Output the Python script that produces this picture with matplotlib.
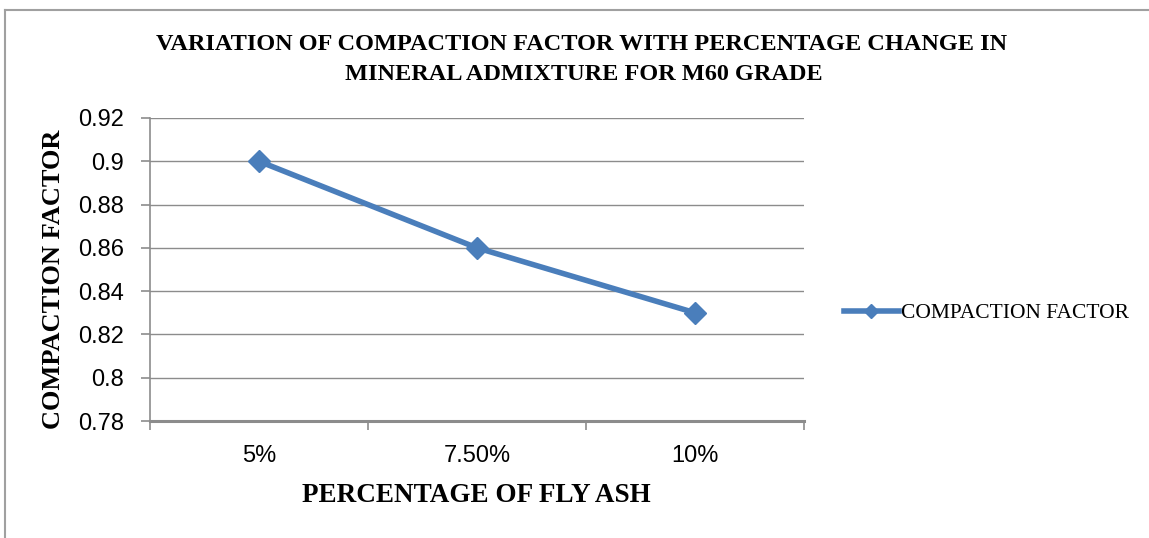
import matplotlib
matplotlib.use("Agg")
import matplotlib.pyplot as plt
from matplotlib.lines import Line2D

categories = ["5%", "7.50%", "10%"]
values = [0.90, 0.86, 0.83]
yticks = [0.78, 0.80, 0.82, 0.84, 0.86, 0.88, 0.90, 0.92]
ytick_labels = ["0.78", "0.8", "0.82", "0.84", "0.86", "0.88", "0.9", "0.92"]

sans = "Liberation Sans"
serif = "Liberation Serif"

W, H = 1149, 538
fig = plt.figure(figsize=(W / 100, H / 100), dpi=100)
ax = fig.add_axes([150 / W, 1 - 421 / H, (804 - 150) / W, (421 - 118) / H])

blue = "#4A7EBB"
grid_c = "#8C8C8C"
x = list(range(len(categories)))
ax.plot(x, values, color=blue, lw=4.0, marker="D", ms=11, mfc=blue, mec=blue, zorder=3)

ax.set_xlim(-0.5, len(categories) - 0.5)
ax.set_ylim(0.78, 0.92)
ax.set_yticks(yticks)
ax.set_yticklabels(ytick_labels, fontfamily=sans, fontsize=17)
ax.set_xticks(x)
ax.set_xticklabels(categories, fontfamily=sans, fontsize=17)
ax.set_xticks([i - 0.5 for i in range(len(categories) + 1)], minor=True)
ax.tick_params(axis="x", which="major", length=0, pad=17)
ax.tick_params(axis="x", which="minor", length=6.5, width=1.2, color=grid_c, direction="out")
ax.tick_params(axis="y", length=6.5, width=1.2, color=grid_c, direction="out", pad=12)
ax.grid(axis="y", color=grid_c, lw=1.0)
ax.set_axisbelow(True)
for s in ["top", "right"]:
    ax.spines[s].set_visible(False)
ax.spines["left"].set_color(grid_c)
ax.spines["left"].set_linewidth(1.2)
ax.spines["bottom"].set_color(grid_c)
ax.spines["bottom"].set_linewidth(2.2)

fig.text(582 / W, 1 - 45 / H, "VARIATION OF COMPACTION FACTOR WITH PERCENTAGE CHANGE IN",
         ha="center", va="center", fontfamily=serif, fontweight="bold", fontsize=17.5)
fig.text(584 / W, 1 - 74 / H, "MINERAL ADMIXTURE FOR M60 GRADE",
         ha="center", va="center", fontfamily=serif, fontweight="bold", fontsize=17.5)
fig.text(54 / W, 1 - 279 / H, "COMPACTION FACTOR", rotation=90, ha="center", va="center",
         fontfamily=serif, fontweight="bold", fontsize=19)
fig.text(476 / W, 1 - 496 / H, "PERCENTAGE OF FLY ASH", ha="center", va="center",
         fontfamily=serif, fontweight="bold", fontsize=19.5)

handle = Line2D([], [], color=blue, lw=4.0, marker="D", ms=7, mfc=blue, mec=blue)
leg = fig.legend([handle], ["COMPACTION FACTOR"], loc="center left",
                 bbox_to_anchor=(844 / W, 1 - 313 / H), frameon=False,
                 prop={"family": serif, "size": 15.5}, handlelength=2.55, handletextpad=0.1,
                 borderaxespad=0, borderpad=0)

# outer chart border (top and left visible)
fig.add_artist(Line2D([5 / W, 5 / W], [0, 1 - 10 / H], color="#A0A0A0", lw=1.5, transform=fig.transFigure))
fig.add_artist(Line2D([5 / W, 1], [1 - 10 / H, 1 - 10 / H], color="#A0A0A0", lw=1.5, transform=fig.transFigure))

fig.savefig("out.png", dpi=100)
